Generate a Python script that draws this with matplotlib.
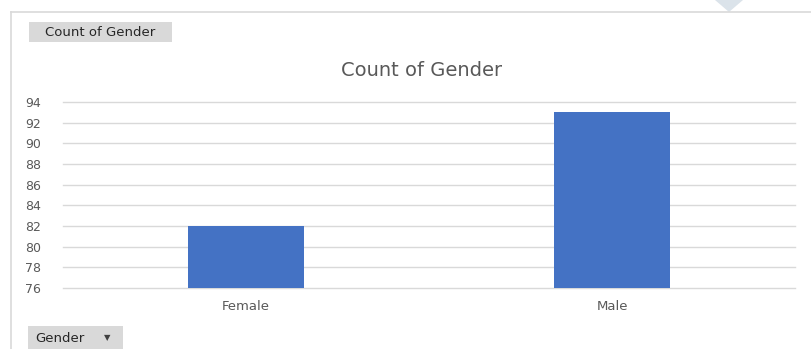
import matplotlib
matplotlib.use("Agg")
import matplotlib.pyplot as plt
from matplotlib.patches import Rectangle, Polygon
from matplotlib.lines import Line2D

categories = ["Female", "Male"]
counts = [82, 93]
yticks = [76, 78, 80, 82, 84, 86, 88, 90, 92, 94]
title = "Count of Gender"
field_button = "Count of Gender"
axis_button = "Gender"

plt.rcParams['font.family'] = ['DejaVu Sans']

W, H = 811, 349
fig = plt.figure(figsize=(W / 100, H / 100), dpi=100)
fig.patch.set_facecolor("white")

def fx(px):
    return px / W

def fy(py):
    return 1 - py / H

# outer chart border (left and top)
fig.add_artist(Line2D([fx(11), fx(11)], [fy(12), fy(349)], color="#d9d9d9", lw=1.2, transform=fig.transFigure))
fig.add_artist(Line2D([fx(11), fx(811)], [fy(12), fy(12)], color="#d9d9d9", lw=1.2, transform=fig.transFigure))
fig.add_artist(Polygon([[fx(715), fy(0)], [fx(743), fy(0)], [fx(729), fy(12)]], closed=True,
                       facecolor="#dbe3ea", edgecolor="none", transform=fig.transFigure))

ax = fig.add_axes([fx(63), fy(288), fx(795) - fx(63), fy(102) - fy(288)])
x = list(range(len(categories)))
ax.bar(x, counts, width=0.315, color="#4472c4", zorder=3)
ax.set_xlim(-0.5, len(categories) - 0.5)
ax.set_ylim(76, 94)
ax.set_yticks(yticks)
ax.set_xticks(x)
ax.set_xticklabels(categories)
ax.yaxis.grid(True, color="#d9d9d9", lw=1.0, zorder=0)
ax.xaxis.grid(False)
for gl in ax.get_ygridlines():
    gl.set_clip_on(False)
for s in ax.spines.values():
    s.set_visible(False)
ax.tick_params(axis="both", length=0, colors="#595959")
ax.tick_params(axis="y", labelsize=9, pad=27.4)
ax.tick_params(axis="x", labelsize=9.5, pad=9)
for lab in ax.get_yticklabels():
    lab.set_horizontalalignment("left")
ax.set_facecolor("white")

fig.text(fx(422), fy(71), title, ha="center", va="center", fontsize=14, color="#595959")

# field buttons
fig.add_artist(Rectangle((fx(29), fy(42)), fx(172) - fx(29), fy(22) - fy(42), facecolor="#d9d9d9",
                         edgecolor="none", transform=fig.transFigure))
fig.text(fx(100.5), fy(32), field_button, ha="center", va="center", fontsize=9.5, color="#262626")
fig.add_artist(Rectangle((fx(28), fy(349)), fx(123) - fx(28), fy(326) - fy(349), facecolor="#d9d9d9",
                         edgecolor="none", transform=fig.transFigure))
fig.text(fx(35), fy(338), axis_button, ha="left", va="center", fontsize=9.5, color="#262626")
fig.text(fx(107), fy(338), "\u25bc", ha="center", va="center", fontsize=6, color="#404040")

fig.savefig("out.png", dpi=100)
